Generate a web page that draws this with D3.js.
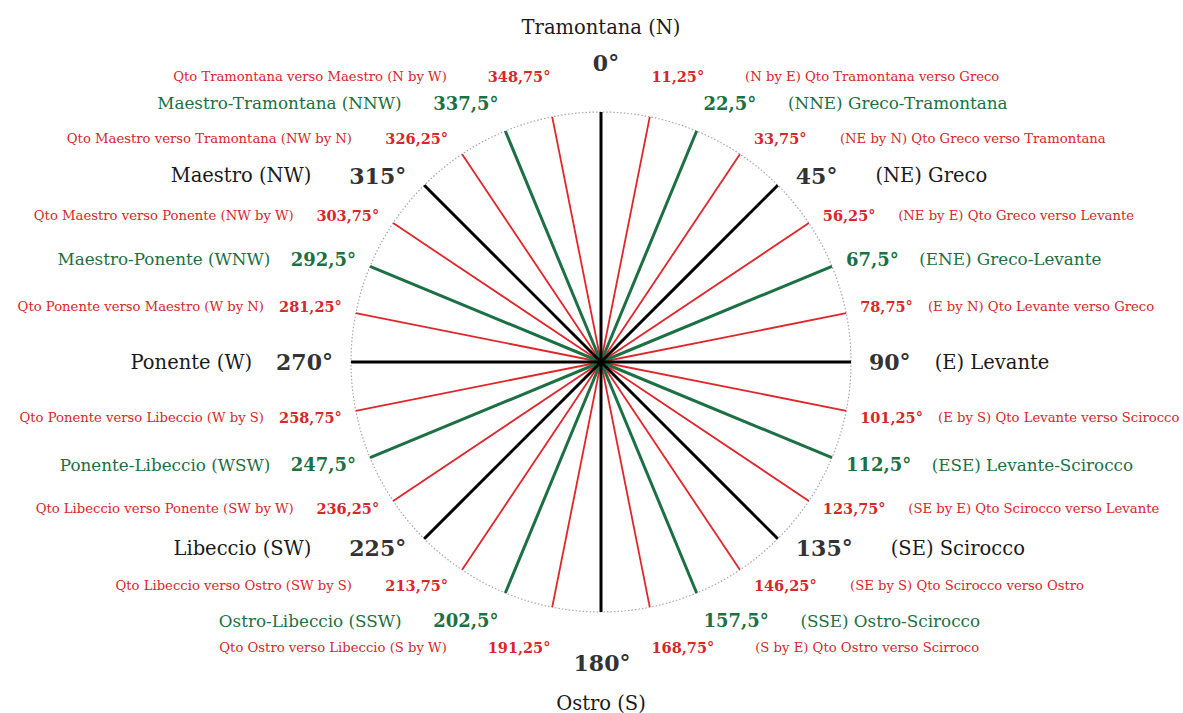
<!DOCTYPE html>
<html>
<head>
<meta charset="utf-8">
<script src="https://cdn.jsdelivr.net/npm/d3@7"></script>
<style>
  body { margin: 0; background: #fff; }
  svg { display: block; }
  text { font-family: "DejaVu Serif", "Liberation Serif", serif; }
</style>
</head>
<body>
<div id="chartContainer"></div>
<script>
// Compass points (degrees from north, clockwise)
const angles = [0, 11.25, 22.5, 33.75, 45, 56.25, 67.5, 78.75,
                90, 101.25, 112.5, 123.75, 135, 146.25, 157.5, 168.75,
                180, 191.25, 202.5, 213.75, 225, 236.25, 247.5, 258.75,
                270, 281.25, 292.5, 303.75, 315, 326.25, 337.5, 348.75];

const degreeLabels = ['0°', '11,25°', '22,5°', '33,75°', '45°', '56,25°', '67,5°', '78,75°',
                      '90°', '101,25°', '112,5°', '123,75°', '135°', '146,25°', '157,5°', '168,75°',
                      '180°', '191,25°', '202,5°', '213,75°', '225°', '236,25°', '247,5°', '258,75°',
                      '270°', '281,25°', '292,5°', '303,75°', '315°', '326,25°', '337,5°', '348,75°'];

const windNames = [
    'Tramontana (N)',
    '(N by E) Qto Tramontana verso Greco',
    '(NNE) Greco-Tramontana',
    '(NE by N) Qto Greco verso Tramontana',
    '(NE) Greco',
    '(NE by E) Qto Greco verso Levante',
    '(ENE) Greco-Levante',
    '(E by N) Qto Levante verso Greco',
    '(E) Levante',
    '(E by S) Qto Levante verso Scirocco',
    '(ESE) Levante-Scirocco',
    '(SE by E) Qto Scirocco verso Levante',
    '(SE) Scirocco',
    '(SE by S) Qto Scirocco verso Ostro',
    '(SSE) Ostro-Scirocco',
    '(S by E) Qto Ostro verso Scirroco',
    'Ostro (S)',
    'Qto Ostro verso Libeccio (S by W)',
    'Ostro-Libeccio (SSW)',
    'Qto Libeccio verso Ostro (SW by S)',
    'Libeccio (SW)',
    'Qto Libeccio verso Ponente (SW by W)',
    'Ponente-Libeccio (WSW)',
    'Qto Ponente verso Libeccio (W by S)',
    'Ponente (W)',
    'Qto Ponente verso Maestro (W by N)',
    'Maestro-Ponente (WNW)',
    'Qto Maestro verso Ponente (NW by W)',
    'Maestro (NW)',
    'Qto Maestro verso Tramontana (NW by N)',
    'Maestro-Tramontana (NNW)',
    'Qto Tramontana verso Maestro (N by W)'
];

// Tier of each point: 0 = main wind, 1 = half wind, 2 = quarter wind
const tiers = angles.map((a, i) => i % 4 === 0 ? 0 : (i % 2 === 0 ? 1 : 2));

// Dimensions
const width = 1183;
const height = 713;
const cx = 601, cy = 362;

// Styles per tier
const lineColor = ['#000000', '#1c7043', '#e0262b'];
const textColor = ['#1a1a1a', '#1c7043', '#d8262b'];
const degColor = ['#333333', '#1c7043', '#d8262b'];
const lineWidth = [3, 3, 1.8];
const nameSize = [19.5, 16.8, 13.2];
const degSize = [22, 18, 14.5];
const degGap = [18, 14, 14];
const nameGapBase = [24, 18, 14];
const nameGapExtra = [28, 16, 28];

// Scales
const angle = d3.scaleLinear().domain([0, 360]).range([0, 2 * Math.PI]);
const r = d3.scaleLinear().domain([0, 1]).range([0, 250]);

const points = angles.map((a, i) => ({
    a, i, tier: tiers[i], deg: degreeLabels[i], name: windNames[i]
}));

// Create the SVG
const svg = d3.select('#chartContainer')
    .append('svg')
    .attr('width', width)
    .attr('height', height)
    .append('g')
    .attr('transform', `translate(${cx},${cy})`);

// Dotted outer circle
svg.append('circle')
    .attr('r', r(1))
    .attr('fill', 'none')
    .attr('stroke', '#a8a8a8')
    .attr('stroke-width', 1.2)
    .attr('stroke-dasharray', '1.5 2');

// Rays, quarter winds first so the main winds sit on top
const order = points.slice().sort((p, q) => q.tier - p.tier);
svg.selectAll('.ray')
    .data(order)
    .join('line')
    .attr('class', 'ray')
    .attr('x1', 0).attr('y1', 0)
    .attr('x2', d => d3.pointRadial(angle(d.a), r(1))[0])
    .attr('y2', d => d3.pointRadial(angle(d.a), r(1))[1])
    .attr('stroke', d => lineColor[d.tier])
    .attr('stroke-width', d => lineWidth[d.tier]);

// Labels
const labels = svg.selectAll('.label')
    .data(points)
    .join('g')
    .attr('class', 'label');

labels.each(function(d) {
    const g = d3.select(this);
    const t = angle(d.a);
    const [ex, ey] = d3.pointRadial(t, r(1));
    const s = Math.sin(t), c = Math.cos(t);
    const vertical = Math.abs(s) < 1e-6;
    const flat = Math.abs(c) < 1e-6;
    // push labels away from the circle near the top and bottom
    const dy = flat ? 0 : -Math.sign(c) * (7 + 39 * Math.pow(Math.abs(c), 8));

    const degText = g.append('text')
        .attr('dominant-baseline', 'central')
        .attr('font-weight', 'bold')
        .attr('font-size', degSize[d.tier])
        .attr('fill', degColor[d.tier])
        .text(d.deg);

    const nameText = g.append('text')
        .attr('dominant-baseline', 'central')
        .attr('font-size', nameSize[d.tier])
        .attr('fill', textColor[d.tier])
        .text(d.name);

    if (vertical) {
        const y = ey + dy + (c > 0 ? -3 : 5);
        degText.attr('text-anchor', 'middle').attr('x', ex + (c > 0 ? 5 : 1)).attr('y', y);
        nameText.attr('text-anchor', 'middle').attr('x', ex).attr('y', y + (c > 0 ? -36 : 40));
    } else {
        const side = Math.sign(s);
        const anchor = side > 0 ? 'start' : 'end';
        const gap = degGap[d.tier] * Math.min(1, Math.pow(Math.abs(s) / 0.55, 2));
        const x = ex + side * gap;
        degText.attr('text-anchor', anchor).attr('x', x).attr('y', ey + dy);
        const w = degText.node().getComputedTextLength();
        const ng = nameGapBase[d.tier] + nameGapExtra[d.tier] * c * c;
        nameText.attr('text-anchor', anchor)
            .attr('x', x + side * (w + ng))
            .attr('y', ey + dy);
    }
});
</script>
</body>
</html>
